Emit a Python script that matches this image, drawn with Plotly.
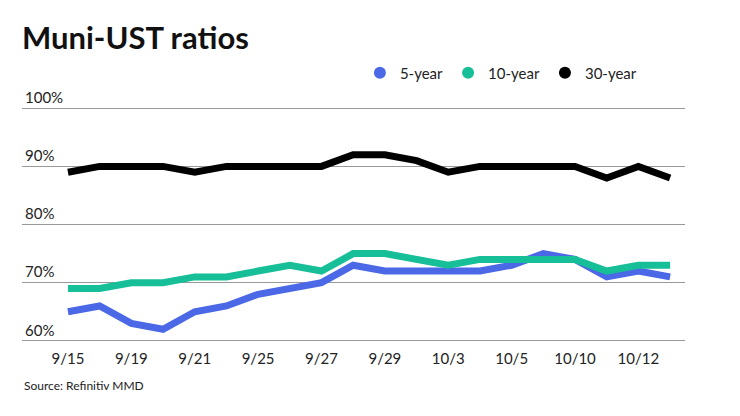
import plotly.graph_objects as go

dates = ["9/15", "9/18", "9/19", "9/20", "9/21", "9/22", "9/25", "9/26", "9/27", "9/28",
         "9/29", "10/2", "10/3", "10/4", "10/5", "10/6", "10/10", "10/11", "10/12", "10/13"]
five_year = [65, 66, 63, 62, 65, 66, 68, 69, 70, 73, 72, 72, 72, 72, 73, 75, 74, 71, 72, 71]
ten_year = [69, 69, 70, 70, 71, 71, 72, 73, 72, 75, 75, 74, 73, 74, 74, 74, 74, 72, 73, 73]
thirty_year = [89, 90, 90, 90, 89, 90, 90, 90, 90, 92, 92, 91, 89, 90, 90, 90, 90, 88, 90, 88]
tick_labels = ["9/15", "9/19", "9/21", "9/25", "9/27", "9/29", "10/3", "10/5", "10/10", "10/12"]
y_ticks = [60, 70, 80, 90, 100]

series = [
    ("5-year", five_year, "#4B68E6"),
    ("10-year", ten_year, "#17BF98"),
    ("30-year", thirty_year, "#000000"),
]

fig = go.Figure()
for name, vals, col in series:
    fig.add_trace(go.Scatter(x=dates, y=vals, mode="lines", name=name,
                             line=dict(color=col, width=7), showlegend=False))
for name, vals, col in series:
    fig.add_trace(go.Scatter(x=[None], y=[None], mode="markers", name=name,
                             marker=dict(color=col, size=12), showlegend=True))

top, bottom = 77, 334  # plot area in figure px (page has 8px body margin)
fig.update_layout(
    width=740, height=416,
    margin=dict(l=14, r=63, t=top, b=416 - bottom),
    paper_bgcolor="white", plot_bgcolor="white",
    font=dict(family="Lato", color="#222"),
    title=dict(text="<b>Muni-UST ratios</b>", x=0, xref="paper", xanchor="left",
               y=1 - 30 / 416, yref="container", yanchor="middle",
               font=dict(size=31, color="#111", family="Lato")),
    legend=dict(orientation="h", x=0.935, xanchor="right",
                y=1 + (top - 65) / (bottom - top), yanchor="middle",
                font=dict(size=15, color="#222"), itemwidth=30, tracegroupgap=0,
                bgcolor="rgba(0,0,0,0)"),
    xaxis=dict(type="category", categoryorder="array", categoryarray=dates,
               range=[-1.45, 19.47], tickmode="array", tickvals=tick_labels,
               ticktext=tick_labels, showgrid=False, zeroline=False, showline=False,
               tickfont=dict(size=15, color="#222"), ticks="outside", ticklen=3,
               tickcolor="rgba(0,0,0,0)"),
    yaxis=dict(range=[59.8, 104], tickvals=y_ticks, ticktext=[f"{v}%" for v in y_ticks],
               ticklabelposition="inside top", showgrid=True, gridcolor="#999",
               gridwidth=1, zeroline=False, showline=False,
               tickfont=dict(size=15, color="#222"), ticks=""),
    annotations=[dict(text="Source: Refinitiv MMD", x=0, xref="paper", xanchor="left",
                      y=-(377 - bottom) / (bottom - top), yref="paper", yanchor="middle",
                      showarrow=False, font=dict(size=12, color="#222"))],
)

fig.write_html("out.html")
